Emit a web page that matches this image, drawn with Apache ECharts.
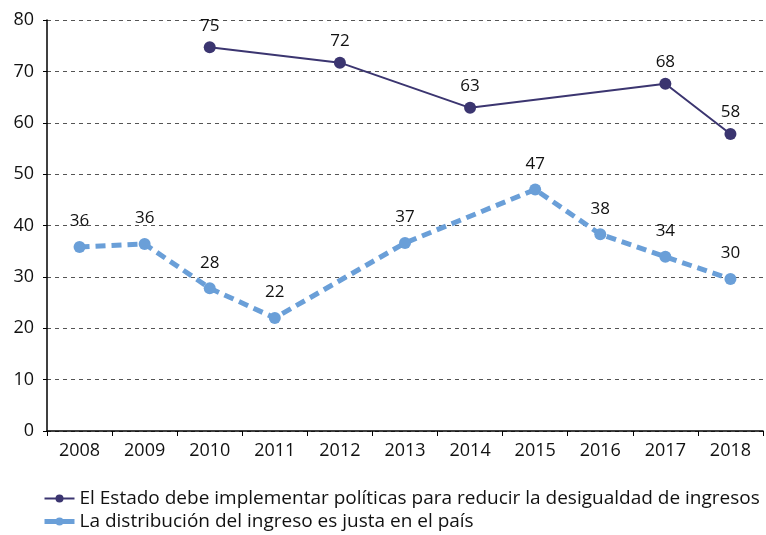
<!DOCTYPE html>
<html><head><meta charset="utf-8">
<script src="https://cdn.jsdelivr.net/npm/echarts@6/dist/echarts.min.js"></script>
<style>html,body{margin:0;padding:0;background:#fff}#c{width:766px;height:535px}</style>
</head><body><div id="c"></div>
<script>
const years = ['2008','2009','2010','2011','2012','2013','2014','2015','2016','2017','2018'];
const estadoName = 'El Estado debe implementar políticas para reducir la desigualdad de ingresos';
const estadoValues = [null, null, 74.7, null, 71.7, null, 62.9, null, null, 67.6, 57.8];
const justaName = 'La distribución del ingreso es justa en el país';
const justaValues = [35.8, 36.4, 27.8, 22.0, null, 36.6, null, 47.0, 38.3, 33.9, 29.6];
const yTicks = [0, 10, 20, 30, 40, 50, 60, 70, 80];

const font = '"Open Sans", Lato, sans-serif';
const chart = echarts.init(document.getElementById('c'));
chart.setOption({
  animation: false,
  textStyle: {fontFamily: font},
  grid: {left: 47, right: 3, top: 20, bottom: 104},
  xAxis: {
    type: 'category', data: years, boundaryGap: true,
    axisLine: {lineStyle: {color: '#000', width: 1.5}},
    axisTick: {show: true, alignWithLabel: false, length: 5, lineStyle: {color: '#000'}},
    axisLabel: {color: '#111', fontSize: 18, margin: 11, fontFamily: font}
  },
  yAxis: {
    type: 'value', min: yTicks[0], max: yTicks[yTicks.length-1], interval: 10,
    axisLine: {show: true, lineStyle: {color: '#000', width: 1.5}},
    axisTick: {show: true, length: 4, lineStyle: {color: '#000'}},
    axisLabel: {color: '#111', fontSize: 18, margin: 13, fontFamily: font},
    splitLine: {lineStyle: {color: '#555', type: [4, 4], width: 1}}
  },
  legend: {
    orient: 'vertical', left: 42, top: 488, itemGap: 2, padding: 0, height: 47,
    itemWidth: 30, itemHeight: 10,
    textStyle: {fontSize: 19, color: '#111', fontFamily: font, lineHeight: 21},
    data: [
      {name: estadoName, itemStyle: {color: '#3b3570'}, lineStyle: {type: 'solid', width: 2}},
      {name: justaName, itemStyle: {color: '#6a9fd8'}, lineStyle: {type: 'solid', width: 5}}
    ]
  },
  series: [
    {
      name: estadoName, type: 'line', data: estadoValues, connectNulls: true,
      symbol: 'circle', symbolSize: 12,
      itemStyle: {color: '#3b3570'},
      lineStyle: {color: '#3b3570', width: 2},
      label: {show: true, position: 'top', distance: 7, fontSize: 17, color: '#111', fontFamily: font,
        formatter: p => Math.round(p.value)}
    },
    {
      name: justaName, type: 'line', data: justaValues, connectNulls: true,
      symbol: 'circle', symbolSize: 12,
      itemStyle: {color: '#6a9fd8'},
      lineStyle: {color: '#6a9fd8', width: 5, type: [10, 6]},
      label: {show: true, position: 'top', distance: 11, fontSize: 17, color: '#111', fontFamily: font,
        formatter: p => Math.round(p.value)}
    }
  ]
});
</script></body></html>
